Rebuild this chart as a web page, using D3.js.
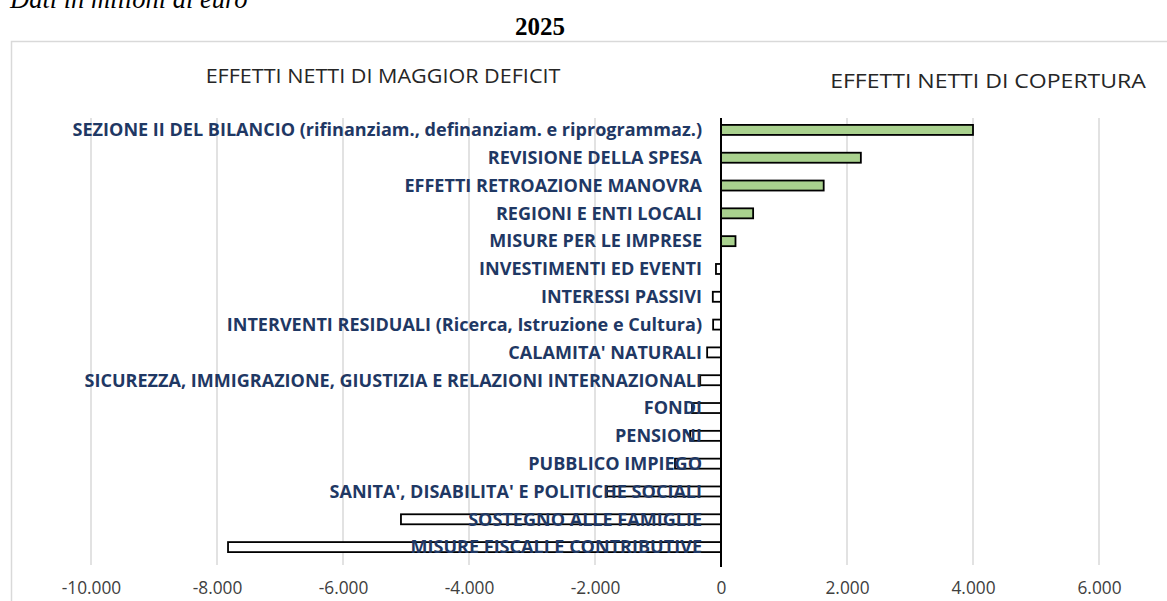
<!DOCTYPE html>
<html>
<head>
<meta charset="utf-8">
<script src="https://cdn.jsdelivr.net/npm/d3@7"></script>
<style>
  body { margin: 0; background: #fff; }
  svg { display: block; }
</style>
</head>
<body>
<svg id="chart" width="1167" height="601"></svg>
<script>
// voci della manovra 2025, dall'alto verso il basso
const categories = [
  'SEZIONE II DEL BILANCIO (rifinanziam., definanziam. e riprogrammaz.)',
  'REVISIONE DELLA SPESA',
  'EFFETTI RETROAZIONE MANOVRA',
  'REGIONI E ENTI LOCALI',
  'MISURE PER LE IMPRESE',
  'INVESTIMENTI ED EVENTI',
  'INTERESSI PASSIVI ',
  'INTERVENTI RESIDUALI (Ricerca, Istruzione e Cultura)',
  "CALAMITA' NATURALI",
  'SICUREZZA, IMMIGRAZIONE, GIUSTIZIA E RELAZIONI INTERNAZIONALI',
  'FONDI',
  'PENSIONI',
  'PUBBLICO IMPIEGO',
  "SANITA', DISABILITA' E POLITICHE SOCIALI",
  'SOSTEGNO ALLE FAMIGLIE',
  'MISURE FISCALI E CONTRIBUTIVE'
];
// milioni di euro
const values = [4000, 2220, 1630, 510, 230, -80, -130, -125, -220, -330, -460, -490, -730, -1810, -5080, -7825];
const xTicks = [-10000, -8000, -6000, -4000, -2000, 0, 2000, 4000, 6000];

const svg = d3.select('#chart');

const it = d3.formatLocale({ decimal: ',', thousands: '.', grouping: [3], currency: ['', '€'], minus: '-' });
const fmt = it.format(',.0f');

// note e titolo
svg.append('text')
  .attr('x', 10).attr('y', 8)
  .style('font-family', '"Liberation Serif", "DejaVu Serif", serif')
  .style('font-style', 'italic')
  .style('font-size', '26.5px')
  .text('Dati in milioni di euro');

svg.append('text')
  .attr('x', 540).attr('y', 35)
  .attr('text-anchor', 'middle')
  .style('font-family', '"Liberation Serif", serif')
  .style('font-weight', 'bold')
  .style('font-size', '25px')
  .text('2025');

// cornice del grafico
svg.append('path')
  .attr('d', 'M11.5,601 V41.5 H1167')
  .attr('fill', 'none')
  .attr('stroke', '#d9d9d9')
  .attr('stroke-width', 1.5);

const margin = { top: 116, bottom: 561, left: 91, right: 1099 };

const x = d3.scaleLinear().domain([-10000, 6000]).range([margin.left, margin.right]);
const y = d3.scaleBand().domain(categories).range([margin.top, margin.bottom]).paddingInner(0.64).paddingOuter(0.32);

// griglia
svg.append('g')
  .selectAll('line')
  .data(xTicks.filter(d => d !== 0))
  .join('line')
  .attr('x1', d => x(d)).attr('x2', d => x(d))
  .attr('y1', margin.top + 2).attr('y2', margin.bottom + 4)
  .attr('stroke', '#d9d9d9')
  .attr('stroke-width', 1.5);

// etichette asse
const axis = d3.axisBottom(x).tickValues(xTicks).tickFormat(fmt).tickSize(0).tickPadding(0);
const axisG = svg.append('g')
  .attr('transform', `translate(0,${margin.bottom + 33})`)
  .call(axis);
axisG.select('.domain').remove();
axisG.selectAll('text')
  .attr('dy', 0)
  .attr('transform', 'scale(0.96,1)')
  .style('font-family', '"Open Sans", sans-serif')
  .style('font-size', '18px')
  .attr('fill', '#404040');

// intestazioni
const head = [
  { t: 'EFFETTI NETTI DI MAGGIOR DEFICIT', cx: 383, cy: 83, w: 355 },
  { t: 'EFFETTI NETTI DI COPERTURA', cx: 988, cy: 88, w: 316 }
];
head.forEach(h => {
  const t = svg.append('text')
    .attr('text-anchor', 'middle')
    .style('font-family', '"Open Sans", sans-serif')
    .style('font-size', '19.5px')
    .attr('fill', '#262626')
    .text(h.t);
  const k = h.w / t.node().getComputedTextLength();
  t.attr('transform', `translate(${h.cx},${h.cy}) scale(${k},1)`);
});

// barre
svg.append('g')
  .selectAll('rect')
  .data(categories)
  .join('rect')
  .attr('x', (d, i) => Math.min(x(0), x(values[i])))
  .attr('y', d => y(d))
  .attr('width', (d, i) => Math.abs(x(values[i]) - x(0)))
  .attr('height', y.bandwidth())
  .attr('fill', (d, i) => values[i] > 0 ? '#a9d18e' : '#fff')
  .attr('stroke', '#000')
  .attr('stroke-width', 1.8);

// asse dello zero
svg.append('line')
  .attr('x1', x(0)).attr('x2', x(0))
  .attr('y1', margin.top + 2).attr('y2', margin.bottom + 6)
  .attr('stroke', '#000')
  .attr('stroke-width', 2);

// etichette delle voci
const labelG = svg.append('g');
const labels = labelG.selectAll('text')
  .data(categories)
  .join('text')
  .attr('x', 0)
  .attr('y', d => y(d) + y.bandwidth() / 2)
  .attr('dy', '0.36em')
  .attr('text-anchor', 'end')
  .style('font-family', '"Open Sans", sans-serif')
  .style('font-weight', 'bold')
  .style('font-size', '17.5px')
  .attr('fill', '#1f3864')
  .text(d => d);

const widest = d3.max(labels.nodes(), n => n.getComputedTextLength());
const sx = 630 / widest;
labelG.attr('transform', `translate(702,0) scale(${sx},1)`);
</script>
</body>
</html>
